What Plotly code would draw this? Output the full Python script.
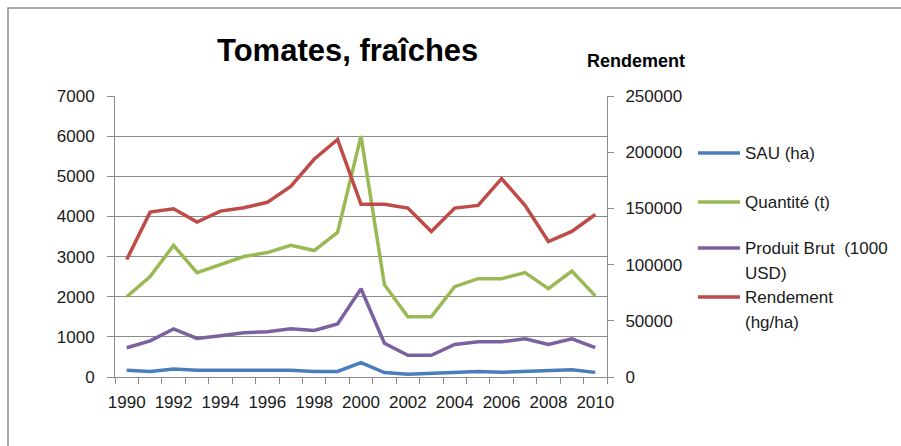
import plotly.graph_objects as go

# Tomates, fraîches - surface, quantity, gross product and yield, 1990-2010
years = list(range(1990, 2011))

sau_ha = [170, 140, 200, 170, 170, 170, 170, 170, 140, 140, 360,
          110, 70, 90, 115, 140, 120, 135, 160, 180, 115]
quantite_t = [2000, 2500, 3280, 2600, 2800, 3000, 3100, 3280, 3150, 3600, 6000,
              2300, 1500, 1500, 2250, 2450, 2450, 2600, 2200, 2640, 2020]
produit_brut = [730, 900, 1200, 960, 1030, 1100, 1130, 1200, 1160, 1320, 2200,
                840, 540, 540, 810, 880, 880, 950, 810, 950, 730]
rendement = [104500, 146700, 149700, 137800, 147600, 150600, 155400, 169600, 193700, 211300, 153600,
             153600, 150300, 129500, 150300, 152700, 176500, 152700, 120500, 129500, 144600]

names = [["SAU (ha)"], ["Quantité (t)"], ["Produit Brut  (1000", "USD)"], ["Rendement", "(hg/ha)"]]
colors = ["#4A7EBB", "#98B954", "#7D60A0", "#BE4B48"]

W, H = 901, 446
ML, MR, MT, MB = 115, 294, 96, 69
PW, PH = W - ML - MR, H - MT - MB


def px(x):
    return (x - ML) / PW


def py(y):
    return (H - MB - y) / PH


FONT = "Liberation Sans, Arial, sans-serif"
GRID = "#8C8C8C"

fig = go.Figure()
series = [sau_ha, quantite_t, produit_brut, rendement]
axes = ["y", "y", "y", "y2"]
for vals, col, ax, nm in zip(series, colors, axes, names):
    fig.add_trace(go.Scatter(x=years, y=vals, mode="lines", yaxis=ax,
                             name=" ".join(nm),
                             line=dict(color=col, width=3.5), showlegend=False))

fig.update_layout(
    width=W, height=H,
    margin=dict(l=ML, r=MR, t=MT, b=MB),
    paper_bgcolor="white", plot_bgcolor="white",
    font=dict(family=FONT, size=17, color="#1a1a1a"),
    xaxis=dict(range=[1989.5, 2010.5], tickvals=years[::2], ticks="",
               showgrid=False, showline=True, linecolor=GRID, linewidth=1,
               zeroline=False, tickfont=dict(size=17), ticklabelstandoff=10,
               minor=dict(ticks="outside", tick0=1989.5, dtick=1, ticklen=6,
                          tickcolor=GRID, showgrid=False)),
    yaxis=dict(range=[0, 7000], dtick=1000, showgrid=True, gridcolor=GRID,
               gridwidth=1, showline=True, linecolor=GRID, ticks="outside",
               ticklen=7, tickcolor=GRID, zeroline=False, tickfont=dict(size=17),
               ticklabelstandoff=9),
    yaxis2=dict(range=[0, 250000], dtick=50000, overlaying="y", side="right",
                showgrid=False, showline=True, linecolor=GRID, ticks="outside",
                ticklen=6, tickcolor=GRID, zeroline=False, tickfont=dict(size=17),
                tickformat="d", ticklabelstandoff=8),
)

# Title and right-axis caption
fig.add_annotation(text="<b>Tomates, fraîches</b>", xref="paper", yref="paper",
                   x=px(347), y=py(50), showarrow=False, xanchor="center", yanchor="middle",
                   font=dict(size=31, color="black"))
fig.add_annotation(text="<b>Rendement</b>", xref="paper", yref="paper",
                   x=px(585), y=py(61), showarrow=False, xanchor="left", yanchor="middle",
                   font=dict(size=18, color="black"))

# Legend drawn as line samples with labels
legend_y = [153, 202, 248, 297]
for nm, col, ly in zip(names, colors, legend_y):
    fig.add_shape(type="line", xref="paper", yref="paper",
                  x0=px(698), x1=px(740), y0=py(ly), y1=py(ly),
                  line=dict(color=col, width=3.5))
    for k, part in enumerate(nm):
        fig.add_annotation(text=part, xref="paper", yref="paper", x=px(743), y=py(ly + 25 * k),
                           showarrow=False, xanchor="left", yanchor="middle", align="left",
                           font=dict(size=17, color="#1a1a1a"))

# Chart frame
fig.add_shape(type="rect", xref="paper", yref="paper",
              x0=px(8), x1=px(910), y0=py(455), y1=py(8),
              line=dict(color="#8A8A8A", width=1.5), layer="below")

fig.write_html("out.html")
